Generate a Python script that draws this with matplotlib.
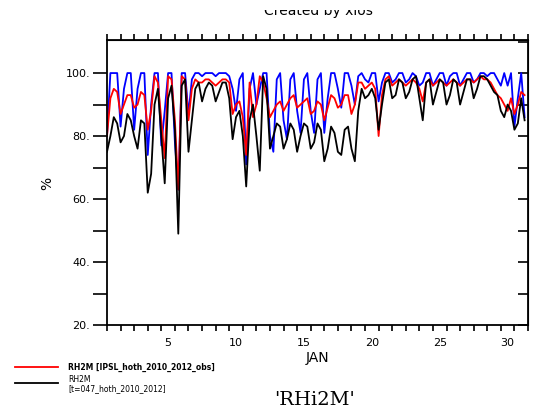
import numpy as np
import matplotlib.pyplot as plt
from matplotlib.lines import Line2D
from matplotlib.transforms import blended_transform_factory

# 6-hourly relative humidity at 2 m (%), one row per day: 00, 06, 12, 18 UTC
rh_blue = [
    [80, 100, 100, 100], [83, 95, 100, 100], [82, 95, 100, 100], [74, 90, 100, 100],
    [77, 88, 100, 100], [78, 63, 100, 100], [87, 98, 100, 100], [99, 100, 100, 100],
    [99, 100, 100, 100], [99, 95, 88, 98], [100, 71, 95, 100], [90, 95, 100, 100],
    [80, 75, 98, 100], [85, 79, 98, 100], [88, 81, 98, 100], [88, 81, 98, 100],
    [81, 92, 100, 100], [95, 89, 100, 100], [96, 90, 99, 100], [98, 97, 100, 100],
    [91, 97, 100, 100], [97, 98, 100, 100], [97, 98, 100, 99], [96, 97, 100, 100],
    [96, 98, 100, 100], [96, 99, 100, 100], [96, 98, 100, 100], [97, 98, 100, 100],
    [99, 100, 100, 98], [96, 100, 96, 100], [83, 92, 100, 86],
]
rh_red = [
    [80, 92, 95, 94], [87, 90, 93, 93], [89, 90, 94, 93], [82, 88, 99, 97],
    [85, 73, 99, 98], [85, 63, 99, 98], [85, 95, 98, 97], [97, 98, 98, 97],
    [96, 97, 98, 98], [97, 87, 90, 91], [86, 74, 97, 86], [90, 99, 97, 92],
    [86, 88, 90, 91], [88, 90, 92, 93], [89, 90, 91, 92], [87, 88, 91, 90],
    [85, 89, 93, 92], [89, 90, 93, 93], [87, 90, 97, 97], [95, 96, 97, 95],
    [80, 93, 98, 99], [96, 97, 98, 97], [96, 97, 98, 97], [95, 91, 97, 98],
    [96, 97, 98, 97], [96, 97, 98, 97], [96, 97, 98, 98], [97, 98, 99, 98],
    [98, 97, 95, 93], [92, 90, 88, 92], [87, 90, 94, 93],
]
rh_black = [
    [75, 80, 86, 84], [78, 80, 87, 85], [80, 76, 85, 84], [62, 68, 90, 95],
    [80, 65, 92, 96], [82, 49, 96, 98], [75, 85, 95, 97], [91, 95, 97, 96],
    [91, 94, 97, 97], [92, 79, 86, 88], [80, 64, 85, 90], [80, 69, 99, 95],
    [76, 80, 84, 83], [76, 79, 84, 82], [75, 80, 84, 83], [76, 78, 84, 82],
    [72, 76, 83, 81], [75, 74, 82, 83], [76, 72, 88, 95], [92, 93, 95, 92],
    [82, 90, 97, 98], [92, 93, 98, 97], [92, 94, 98, 99], [92, 85, 97, 98],
    [90, 94, 98, 97], [90, 93, 98, 97], [90, 94, 98, 98], [92, 95, 99, 99],
    [98, 96, 94, 93], [88, 86, 90, 88], [82, 84, 92, 85],
]
day_labels = [5, 10, 15, 20, 25, 30]
y_labels = [20, 40, 60, 80, 100]

n_days = len(rh_black)
t = 1 + np.arange(n_days * 4) / 4.0

fig = plt.figure(figsize=(5.35, 4.12), dpi=100)
ax = fig.add_axes([107 / 535, 1 - 325 / 412, 421 / 535, 285 / 412])

ax.plot(t, np.ravel(rh_blue), color='#0000ff', lw=1.3)
ax.plot(t, np.ravel(rh_red), color='#ff0000', lw=1.3)
ax.plot(t, np.ravel(rh_black), color='black', lw=1.3)

ax.set_xlim(1, n_days + 1)
ax.set_ylim(20, 110.5)

for s in ax.spines.values():
    s.set_linewidth(1.3)

# daily ticks on the bottom, labels centred on the day
ax.set_xticks(np.arange(1, n_days + 2))
ax.set_xticklabels([])
ax.tick_params(axis='x', direction='out', length=4, width=1.2)
xlab = blended_transform_factory(ax.transData, ax.transAxes)
for d in day_labels:
    ax.text(d + 0.5, -0.062, str(d), transform=xlab, ha='center', va='center',
            fontsize=8)
ax.text(0.5, -0.115, 'JAN', transform=ax.transAxes, ha='center', va='center', fontsize=10)

ax.set_yticks(y_labels)
ax.set_yticklabels([f'{v}.' for v in y_labels], fontsize=8)
ax.set_yticks(np.arange(30, 110, 20), minor=True)
ax.tick_params(axis='y', which='both', direction='out', length=10, width=1.2, pad=2)

top = ax.secondary_xaxis('top')
top.set_xticks(np.arange(1, n_days + 2))
top.set_xticklabels([])
top.tick_params(direction='out', length=4, width=1.2)

right = ax.secondary_yaxis('right')
right.set_yticks(np.arange(20, 111, 10))
right.set_yticklabels([])
right.tick_params(direction='in', length=7, width=1.2)

fig.text(47 / 535, 1 - 183 / 412, '%', rotation=90, ha='center', va='center', fontsize=10)

# header strip: the text is clipped so only its lower part shows
hdr = fig.add_axes([0, 1 - 20 / 412, 1, 10 / 412])
hdr.axis('off')
hdr.text(318 / 535, 0.5, 'Created by xios', transform=hdr.transAxes,
         ha='center', va='baseline', fontsize=10, clip_on=True)

# legend
fig.add_artist(Line2D([15 / 535, 58 / 535], [1 - 367 / 412] * 2, color='#ff0000', lw=1.3))
fig.add_artist(Line2D([15 / 535, 58 / 535], [1 - 383 / 412] * 2, color='black', lw=1.3))
fig.text(68 / 535, 1 - 367 / 412, 'RH2M [IPSL_hoth_2010_2012_obs]', fontsize=5.5,
         weight='bold', va='center')
fig.text(68 / 535, 1 - 379 / 412, 'RH2M', fontsize=5.5, va='center')
fig.text(68 / 535, 1 - 389 / 412, '[t=047_hoth_2010_2012]', fontsize=5.5, va='center')

fig.text(315 / 535, 1 - 405 / 412, "'RHi2M'", family='DejaVu Serif', fontsize=14,
         ha='center', va='baseline')

fig.savefig('out.png', dpi=100)
